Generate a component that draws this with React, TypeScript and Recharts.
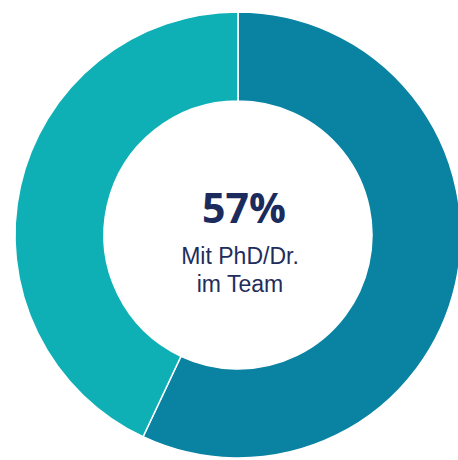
import { PieChart, Pie, Cell, Label } from 'recharts';

const segments = ['Mit PhD/Dr.', 'Ohne PhD/Dr.'];
const shares = [57, 43];
const colors = ['#0a83a3', '#0fb0b5'];
const headline = '57%';
const captionLines = ['Mit PhD/Dr.', 'im Team'];

const data = segments.map((name, i) => ({ name, value: shares[i] }));

const CX = 238;
const CY = 235;

function CenterText() {
  return (
    <g>
      <text x={CX + 6} y={CY - 12} textAnchor="middle" fill="#1b2b5e" fontFamily="'Open Sans', sans-serif" fontWeight={700} fontSize={41}>
        {headline}
      </text>
      <text x={CX + 2} y={CY + 29} textAnchor="middle" fill="#1f2d5c" fontFamily="'Liberation Sans', Arial, sans-serif" fontSize={23}>
        {captionLines[0]}
      </text>
      <text x={CX + 2} y={CY + 57} textAnchor="middle" fill="#1f2d5c" fontFamily="'Liberation Sans', Arial, sans-serif" fontSize={23}>
        {captionLines[1]}
      </text>
    </g>
  );
}

export default function App() {
  return (
    <div style={{ position: 'absolute', left: 0, top: 0, width: 458, height: 460, background: '#fff' }}>
      <PieChart width={458} height={460} margin={{ top: 0, right: 0, bottom: 0, left: 0 }}>
        <Pie
          data={data}
          dataKey="value"
          nameKey="name"
          cx={CX}
          cy={CY}
          innerRadius={134}
          outerRadius={223}
          startAngle={90}
          endAngle={-270}
          stroke="#ffffff"
          strokeWidth={1.5}
          isAnimationActive={false}
        >
          {data.map((d, i) => (
            <Cell key={d.name} fill={colors[i]} />
          ))}
          <Label position="center" content={<CenterText />} />
        </Pie>
      </PieChart>
    </div>
  );
}
